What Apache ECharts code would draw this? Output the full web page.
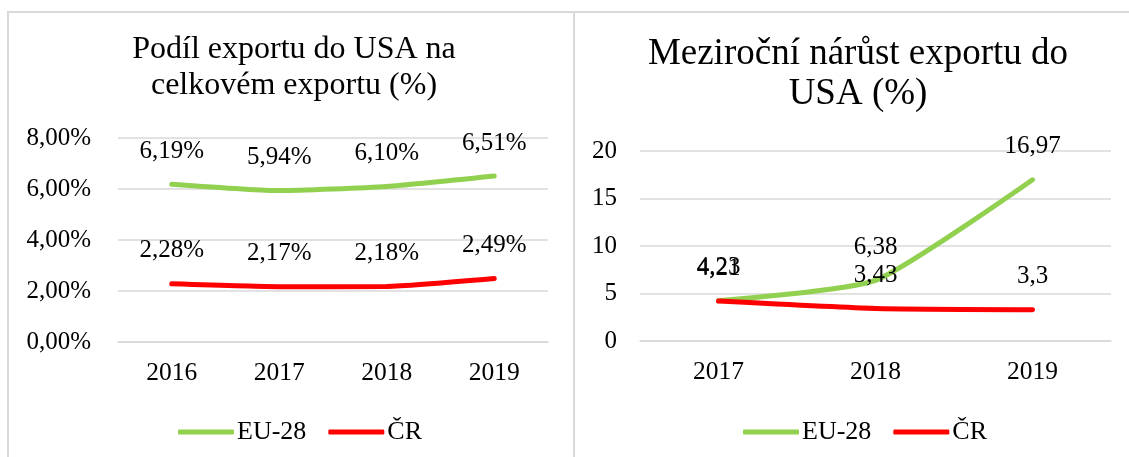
<!DOCTYPE html>
<html>
<head>
<meta charset="utf-8">
<script src="https://cdn.jsdelivr.net/npm/echarts@6/dist/echarts.min.js"></script>
<style>
html,body{margin:0;padding:0;background:#fff;}
#c{width:1129px;height:457px;}
</style>
</head>
<body>
<div id="c"></div>
<script>
// Left chart: share of exports to USA (%)
var yearsLeft = ['2016', '2017', '2018', '2019'];
var euShare = [6.19, 5.94, 6.10, 6.51];
var czShare = [2.28, 2.17, 2.18, 2.49];
var leftTicks = [0, 2, 4, 6, 8];

// Right chart: year-on-year growth of exports to USA (%)
var yearsRight = ['2017', '2018', '2019'];
var euGrowth = [4.23, 6.38, 16.97];
var czGrowth = [4.21, 3.43, 3.3];
var rightTicks = [0, 5, 10, 15, 20];

var titleLeft = 'Podíl exportu do USA na\ncelkovém exportu (%)';
var titleRight = 'Meziroční nárůst exportu do\nUSA (%)';
var seriesNames = ['EU-28', 'ČR'];

var FONT = '"Liberation Serif", "Times New Roman", serif';
var GREEN = '#92D050';
var RED = '#FF0000';
var GRID = '#d9d9d9';

function pct(v) { return v.toFixed(2).replace('.', ',') + '%'; }
function num(v) { return String(v).replace('.', ','); }

function lineSeries(name, data, color, idx, fmt) {
  return {
    name: name,
    type: 'line',
    xAxisIndex: idx,
    yAxisIndex: idx,
    data: data,
    smooth: 0.18,
    symbol: 'circle',
    symbolSize: 1,
    showSymbol: true,
    itemStyle: { color: color },
    lineStyle: { color: color, width: 5, cap: 'round' },
    label: {
      show: true,
      position: 'top',
      distance: 20,
      color: '#000',
      fontFamily: FONT,
      fontSize: 25,
      formatter: function (p) { return fmt(p.value); }
    },
    emphasis: { disabled: true },
    animation: false
  };
}

function xAxis(idx, data) {
  return {
    type: 'category',
    gridIndex: idx,
    data: data,
    boundaryGap: true,
    axisLine: { show: true, lineStyle: { color: GRID, width: 1.5 } },
    axisTick: { show: false },
    axisLabel: { color: '#000', fontFamily: FONT, fontSize: 25.5, margin: 18 }
  };
}

function yAxis(idx, ticks, fmt, margin) {
  return {
    type: 'value',
    gridIndex: idx,
    min: ticks[0],
    max: ticks[ticks.length - 1],
    interval: ticks[1] - ticks[0],
    axisLine: { show: false },
    axisTick: { show: false },
    splitLine: { show: true, lineStyle: { color: GRID, width: 1.5 } },
    axisLabel: { color: '#000', fontFamily: FONT, fontSize: 25, margin: margin, formatter: fmt }
  };
}

function legend(left) {
  return {
    left: left,
    top: 414,
    data: seriesNames,
    icon: 'roundRect',
    itemWidth: 56,
    itemHeight: 5,
    itemGap: 22,
    selectedMode: false,
    textStyle: { color: '#000', fontFamily: FONT, fontSize: 26, padding: [0, 0, 0, -2] }
  };
}

var chart = echarts.init(document.getElementById('c'), null, { renderer: 'canvas' });
chart.setOption({
  backgroundColor: '#fff',
  animation: false,
  graphic: [
    { type: 'rect', shape: { x: 8, y: 12, width: 566, height: 470 }, style: { fill: 'none', stroke: GRID, lineWidth: 2 }, silent: true },
    { type: 'rect', shape: { x: 574, y: 12, width: 570, height: 470 }, style: { fill: 'none', stroke: GRID, lineWidth: 2 }, silent: true },
    { type: 'text', x: 294, y: 32, style: { text: titleLeft, fill: '#000', font: '32px ' + FONT, textAlign: 'center', textVerticalAlign: 'top', lineHeight: 36 }, silent: true },
    { type: 'text', x: 858, y: 34, style: { text: titleRight, fill: '#000', font: '37px ' + FONT, textAlign: 'center', textVerticalAlign: 'top', lineHeight: 40 }, silent: true }
  ],
  legend: [legend(173), legend(738)],
  grid: [
    { left: 118, top: 138, width: 430, height: 204 },
    { left: 640, top: 151, width: 471, height: 190 }
  ],
  xAxis: [xAxis(0, yearsLeft), xAxis(1, yearsRight)],
  yAxis: [
    yAxis(0, leftTicks, function (v) { return pct(v); }, 27),
    yAxis(1, rightTicks, function (v) { return String(v); }, 23)
  ],
  series: [
    lineSeries(seriesNames[0], euShare, GREEN, 0, pct),
    lineSeries(seriesNames[1], czShare, RED, 0, pct),
    lineSeries(seriesNames[0], euGrowth, GREEN, 1, num),
    lineSeries(seriesNames[1], czGrowth, RED, 1, num)
  ]
});
</script>
</body>
</html>
